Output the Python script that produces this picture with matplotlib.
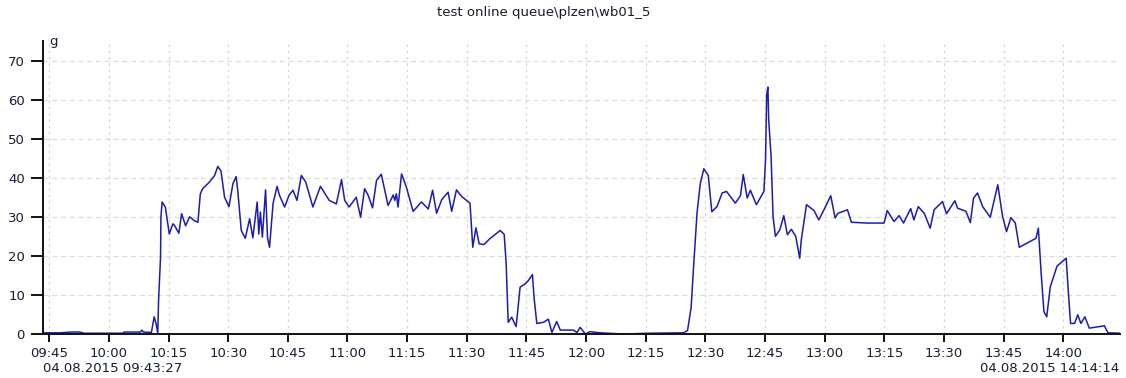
import numpy as np
import pandas as pd
import matplotlib
matplotlib.use("Agg")
import matplotlib.pyplot as plt
import matplotlib.dates as mdates

# queue load samples, time in minutes after 09:45 on 04.08.2015
t_min = [
    -1.55, 2.5, 5.8, 7.6, 8.8, 18.4, 18.9, 23.0, 23.3, 23.7,
    25.7, 26.4, 26.9, 27.3, 27.5, 28.0, 28.1, 28.4, 29.2, 30.2,
    31.1, 31.5, 32.6, 33.3, 34.3, 35.3, 36.5, 37.4, 38.0, 38.6,
    40.3, 41.6, 42.4, 43.2, 44.1, 45.2, 46.2, 47.0, 47.4, 48.3,
    49.3, 50.4, 51.2, 52.3, 52.7, 53.1, 53.6, 54.4, 54.9, 55.4,
    56.3, 57.3, 57.9, 59.2, 60.3, 61.3, 62.3, 63.4, 64.5, 66.3,
    68.2, 70.4, 72.2, 73.5, 74.3, 75.4, 77.2, 78.3, 79.3, 80.2,
    81.3, 82.3, 83.5, 85.2, 86.5, 86.9, 87.3, 87.7, 88.6, 89.8,
    91.5, 93.6, 95.3, 96.4, 97.4, 98.7, 100.3, 101.2, 102.4, 103.7,
    105.8, 106.5, 107.3, 108.1, 109.3, 110.8, 113.4, 114.4, 114.9, 115.4,
    116.3, 116.7, 117.4, 118.4, 119.6, 120.5, 121.5, 121.9, 122.6, 124.3,
    125.5, 126.4, 127.6, 128.5, 131.8, 132.7, 133.5, 134.8, 136.0, 138.5,
    144.4, 151.1, 159.5, 160.5, 161.4, 162.0, 162.9, 163.7, 164.6, 165.7,
    166.6, 167.9, 169.2, 170.3, 172.5, 173.8, 174.5, 175.5, 176.3, 177.8,
    179.7, 180.1, 180.4, 180.7, 180.9, 181.5, 182.0, 182.6, 183.7, 184.7,
    185.6, 186.6, 187.7, 188.7, 189.1, 190.4, 192.3, 193.5, 194.8, 196.5,
    197.6, 198.3, 200.7, 201.7, 205.7, 209.9, 210.7, 212.4, 213.7, 214.8,
    216.6, 217.4, 218.5, 220.0, 221.5, 222.5, 224.6, 225.6, 227.7, 228.4,
    230.5, 231.6, 232.4, 233.4, 234.7, 236.6, 238.5, 239.7, 240.7, 241.8,
    242.9, 243.9, 248.1, 248.7, 249.4, 250.1, 250.8, 251.7, 253.4, 255.7,
    256.2, 256.8, 257.8, 258.6, 259.4, 260.4, 261.5, 265.3, 266.2, 269.23,
]
load_g = [
    0.3, 0.3, 0.5, 0.5, 0.2, 0.2, 0.5, 0.5, 1.0, 0.5,
    0.4, 4.4, 2.5, 0.2, 8.5, 19.7, 30.0, 33.8, 32.5, 25.6,
    28.2, 27.8, 25.8, 30.8, 27.7, 30.0, 29.0, 28.6, 35.9, 37.2,
    38.9, 40.6, 42.9, 41.7, 35.0, 32.6, 38.5, 40.3, 36.8, 26.5,
    24.5, 29.5, 24.6, 33.8, 25.6, 31.2, 24.8, 36.9, 24.6, 22.2,
    33.5, 37.8, 35.5, 32.5, 35.5, 36.8, 34.2, 40.6, 38.9, 32.5,
    37.8, 34.2, 33.3, 39.5, 34.2, 32.5, 35.0, 29.9, 37.2, 35.5,
    32.3, 39.3, 40.9, 32.9, 35.6, 34.2, 35.9, 32.5, 41.0, 37.6,
    31.4, 33.8, 32.0, 36.8, 30.9, 34.4, 36.3, 31.4, 36.9, 35.2,
    33.5, 22.2, 27.2, 23.1, 22.9, 24.4, 26.5, 25.5, 17.9, 3.0,
    4.3, 3.4, 1.9, 12.0, 12.8, 13.7, 15.2, 9.4, 2.7, 3.0,
    3.8, 0.4, 3.2, 1.0, 1.0, 0.4, 1.7, 0.0, 0.6, 0.3,
    0.0, 0.2, 0.3, 0.9, 6.8, 17.0, 31.2, 38.5, 42.3, 40.6,
    31.3, 32.6, 36.1, 36.5, 33.5, 35.4, 40.8, 34.8, 36.8, 33.1,
    36.5, 44.6, 61.3, 63.2, 54.9, 45.5, 30.0, 25.0, 26.7, 30.3,
    25.4, 26.8, 25.0, 19.4, 24.1, 33.1, 31.6, 29.2, 31.8, 35.4,
    29.7, 30.9, 31.8, 28.6, 28.4, 28.4, 31.6, 28.8, 30.3, 28.4,
    32.1, 29.2, 32.6, 30.9, 27.1, 31.8, 33.9, 30.8, 34.1, 32.2,
    31.4, 28.5, 34.8, 36.1, 32.6, 29.9, 38.2, 30.1, 26.2, 29.8,
    28.4, 22.2, 24.5, 27.1, 15.6, 5.7, 4.4, 12.1, 17.4, 19.4,
    11.3, 2.7, 2.7, 4.9, 2.7, 4.4, 1.5, 2.1, 0.3, 0.2,
]

title = "test online queue\\plzen\\wb01_5"
unit = "g"
t_start = "2015-08-04 09:43:27"
t_end = "2015-08-04 14:14:14"
y_ticks = [0, 10, 20, 30, 40, 50, 60, 70]

base = pd.Timestamp("2015-08-04 09:45:00")
times = base + pd.to_timedelta(np.array(t_min), unit="m")
t0 = pd.Timestamp(t_start)
t1 = pd.Timestamp(t_end)

plt.rcParams["font.family"] = ["DejaVu Sans"]
fig = plt.figure(figsize=(11.26, 3.78), dpi=100)
ax = fig.add_axes([0.0382, 0.1164, 0.9565, 0.7751])

ax.plot(times, load_g, color="#1c1cae", linewidth=1.1)

ax.set_xlim(t0, t1)
ax.set_ylim(0, 75)
ax.set_yticks(y_ticks)
ax.xaxis.set_major_locator(mdates.MinuteLocator(byminute=[0, 15, 30, 45]))
ax.xaxis.set_major_formatter(mdates.DateFormatter("%H:%M"))

# dotted verticals, dashed horizontals
ax.xaxis.grid(True, color="#d6d6d6", linestyle=(0, (2, 3)), linewidth=0.9)
ax.yaxis.grid(True, color="#dcdcdc", linestyle=(0, (4, 3)), linewidth=0.9)
for s in ["top", "right"]:
    ax.spines[s].set_visible(False)
for s in ["left", "bottom"]:
    ax.spines[s].set_linewidth(1.4)
    ax.spines[s].set_color("#111111")
ax.tick_params(axis="y", length=9, width=1.4, pad=4, labelsize=9.5, colors="#111111")
ax.tick_params(axis="x", length=6, width=1.4, pad=3, labelsize=9.5, colors="#111111")
for lab in ax.get_xticklabels() + ax.get_yticklabels():
    lab.set_color("#1a1a3a")

fig.text(0.483, 0.966, title, ha="center", va="center", fontsize=9.5, color="#1a1a2a")
fig.text(49 / 1126, 1 - 42 / 378, unit, ha="left", va="center", fontsize=9.5, color="#1a1a3a")
fig.text(43 / 1126, 1 - 368 / 378, t0.strftime("%d.%m.%Y %H:%M:%S"),
         ha="left", va="center", fontsize=9.5, color="#1a1a3a")
fig.text(1119 / 1126, 1 - 368 / 378, t1.strftime("%d.%m.%Y %H:%M:%S"),
         ha="right", va="center", fontsize=9.5, color="#1a1a3a")

fig.savefig("out.png", dpi=100)
